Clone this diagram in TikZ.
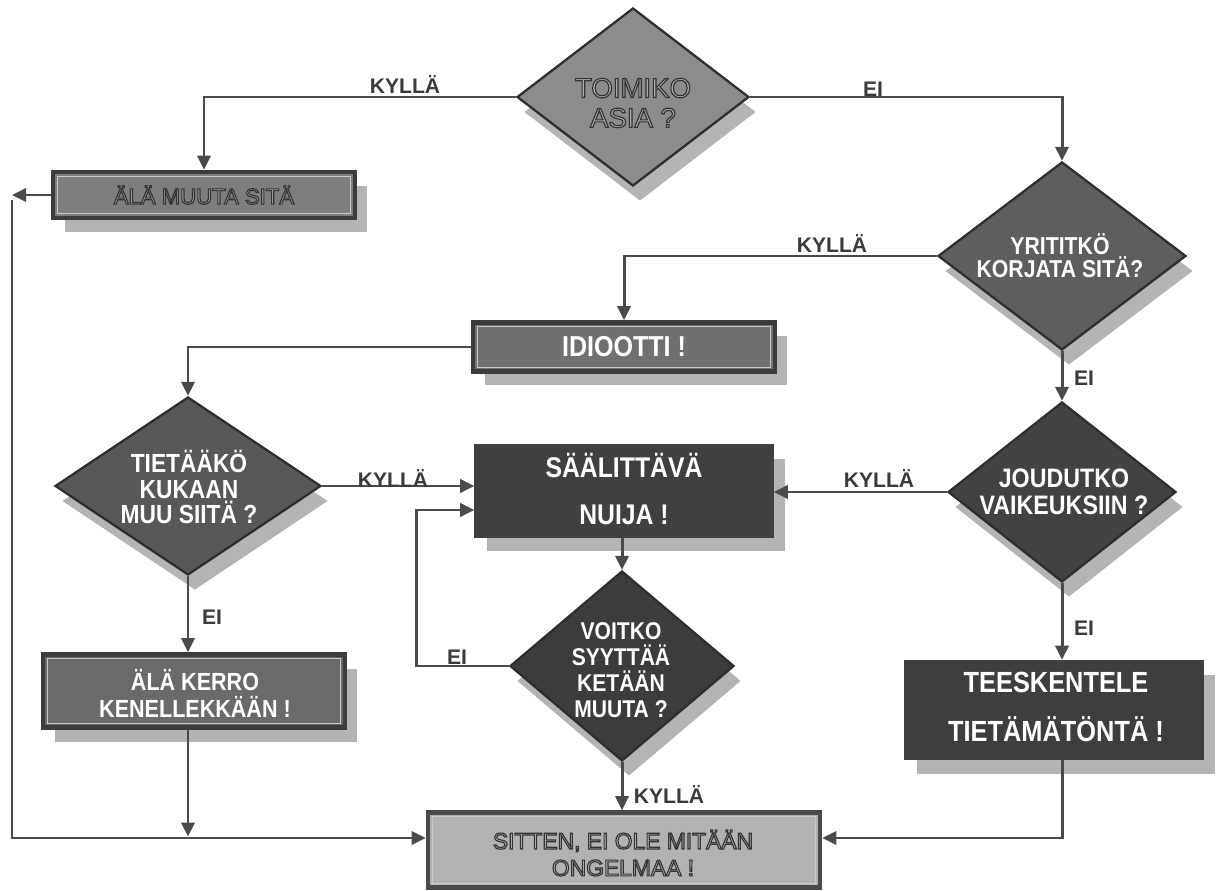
\documentclass[tikz,border=0pt]{standalone}
\usepackage{fontspec}
\setmainfont{Liberation Sans}
\newfontfamily\condsans[FakeStretch=0.87]{Liberation Sans}
\usetikzlibrary{shapes.geometric,shadows,arrows.meta}
\newdimen\pxu \pxu=0.02cm
\definecolor{linec}{HTML}{4A4A4A}
\definecolor{labelc}{HTML}{3A3A3A}
\definecolor{borderc}{HTML}{2E2E2E}
\definecolor{framec}{HTML}{3C3C3C}
\definecolor{innerc}{HTML}{C8C8C8}
\definecolor{shadowc}{HTML}{B4B4B4}
\definecolor{otextc}{HTML}{ABABAB}
\definecolor{d1c}{HTML}{8C8C8C}
\definecolor{muc}{HTML}{7E7E7E}
\definecolor{d2c}{HTML}{5E5E5E}
\definecolor{idic}{HTML}{707070}
\definecolor{d3c}{HTML}{585858}
\definecolor{saalc}{HTML}{404040}
\definecolor{d4c}{HTML}{424242}
\definecolor{d5c}{HTML}{3C3C3C}
\definecolor{teesc}{HTML}{3E3E3E}
\definecolor{kerroc}{HTML}{6A6A6A}
\definecolor{sitc}{HTML}{B2B2B2}
\definecolor{sittextc}{HTML}{BDBDBD}
\newcommand\outlon{\special{pdf:literal direct 2 Tr 0.65 w 0.2 0.2 0.2 RG}}
\newcommand\outloff{\special{pdf:literal direct 0 Tr}}
\begin{document}
\begin{tikzpicture}[x=0.02cm,y=-0.02cm,
  conn/.style={line width=1.7pt, draw=linec},
  arr/.style={conn, -{Triangle[length=8pt,width=7.5pt]}},
  lbl/.style={font=\fontsize{12}{14}\selectfont\bfseries, text=labelc, inner sep=0pt},
  dia/.style={diamond, draw=borderc, line width=1.3pt, inner sep=0pt},
  dshadow/.style={drop shadow={shadow xshift=7*\pxu, shadow yshift=-15*\pxu, fill=shadowc, opacity=1}},
  bshadow/.style={drop shadow={shadow xshift=12*\pxu, shadow yshift=-14*\pxu, fill=shadowc, opacity=1}},
  framebox/.style={rectangle, draw=framec, line width=2.6pt, inner sep=0pt,
    path picture={\draw[innerc, line width=0.6pt]
      ([shift={(2.4pt,2.4pt)}]path picture bounding box.south west) rectangle
      ([shift={(-2.4pt,-2.4pt)}]path picture bounding box.north east);}},
  darkbox/.style={rectangle, line width=0.8pt, inner sep=0pt},
  wtext/.style={text=white, align=center, inner sep=0pt},
  otext/.style={align=center, inner sep=0pt},
]
\useasboundingbox[fill=white] (0,0) rectangle (1224,891);

% ---------- shapes ----------
\node[dia, dshadow, fill=d1c, minimum width=232*\pxu, minimum height=178*\pxu] (d1) at (633,97) {};
\node[otext, text=otextc, font=\fontsize{15.7}{17}\selectfont] (d1t) at (633,103) {\outlon TOIMIKO\\ASIA ?\outloff};

\node[framebox, bshadow, fill=muc, minimum width=302*\pxu, minimum height=46*\pxu,
      text=otextc, font=\fontsize{12.6}{14}\selectfont] (mu) at (204,195) {\outlon ÄLÄ MUUTA SITÄ\outloff};

\node[dia, dshadow, fill=d2c, minimum width=248*\pxu, minimum height=188*\pxu] (d2) at (1062,256) {};
\node[wtext, font=\condsans\bfseries\fontsize{13.9}{13}\selectfont] (d2t) at (1060,256) {YRITITKÖ\\KORJATA SITÄ?};

\node[framebox, bshadow, fill=idic, minimum width=302*\pxu, minimum height=49*\pxu,
      text=white, font=\condsans\bfseries\fontsize{16.4}{18}\selectfont] (idi) at (624,347) {IDIOOTTI !};

\node[dia, dshadow, fill=d3c, minimum width=266*\pxu, minimum height=178*\pxu] (d3) at (188,486) {};
\node[wtext, font=\condsans\bfseries\fontsize{14.9}{14.7}\selectfont] (d3t) at (189,487) {TIETÄÄKÖ\\KUKAAN\\MUU SIITÄ ?};

\node[darkbox, bshadow, fill=saalc, draw=saalc, minimum width=298*\pxu, minimum height=92*\pxu] (saal) at (624,491) {};
\node[wtext, font=\condsans\bfseries\fontsize{16.2}{27}\selectfont] (saalt) at (624,489) {SÄÄLITTÄVÄ\\NUIJA !};

\node[dia, dshadow, fill=d4c, minimum width=228*\pxu, minimum height=180*\pxu] (d4) at (1062,492) {};
\node[wtext, font=\condsans\bfseries\fontsize{15.2}{15.3}\selectfont] (d4t) at (1064,492) {JOUDUTKO\\VAIKEUKSIIN ?};

\node[dia, dshadow, fill=d5c, minimum width=224*\pxu, minimum height=190*\pxu] (d5) at (622,666) {};
\node[wtext, font=\condsans\bfseries\fontsize{13.8}{14.7}\selectfont] (d5t) at (621,670) {VOITKO\\SYYTTÄÄ\\KETÄÄN\\MUUTA ?};

\node[darkbox, bshadow, fill=teesc, draw=teesc, minimum width=298*\pxu, minimum height=99*\pxu] (tees) at (1054,710) {};
\node[wtext, font=\condsans\bfseries\fontsize{16.6}{28.4}\selectfont] (teest) at (1056,707) {TEESKENTELE\\TIETÄMÄTÖNTÄ !};

\node[framebox, bshadow, fill=kerroc, minimum width=302*\pxu, minimum height=73*\pxu] (kerro) at (194,691) {};
\node[wtext, font=\condsans\bfseries\fontsize{14.1}{15.3}\selectfont] (kerrot) at (195,693) {ÄLÄ KERRO\\KENELLEKKÄÄN !};

\node[framebox, draw=linec, fill=sitc, minimum width=392*\pxu, minimum height=75*\pxu] (sit) at (624,850) {};
\node[otext, text=sittextc, font=\fontsize{13}{15.3}\selectfont] (sitt) at (623,853) {\outlon SITTEN, EI OLE MITÄÄN\\ONGELMAA !\outloff};

% ---------- helper coordinates ----------
\coordinate (lt) at (12,200);
\coordinate (lb) at (12,838);
\coordinate (ks) at (kerro.south -| d3.south);

% ---------- connectors ----------
\draw[arr] (d1.west) -| (mu.north);
\node[lbl] (l1) at (405,85) {KYLLÄ};
\draw[arr] (d1.east) -| (d2.north);
\node[lbl] (l2) at (873,89) {EI};
\draw[arr] (d2.west) -| (idi.north);
\node[lbl] (l3) at (832,244) {KYLLÄ};
\draw[arr] (idi.west) -| (d3.north);
\draw[arr] (d3.east) -- (d3.east -| saal.west);
\node[lbl] (l4) at (393,478) {KYLLÄ};
\draw[arr] (d3.south) -- (d3.south |- kerro.north);
\node[lbl] (l5) at (212,617) {EI};
\draw[arr] (d2.south) -- (d4.north);
\node[lbl] (l6) at (1084,378) {EI};
\draw[arr] (d4.west) -- (d4.west -| saal.east);
\node[lbl] (l7) at (879,478) {KYLLÄ};
\draw[arr] (d4.south) -- (d4.south |- tees.north);
\node[lbl] (l8) at (1084,628) {EI};
\draw[arr] (d4.south |- tees.south) |- ([yshift=12*\pxu]sit.east);
\draw[arr] (saal.south -| d5.north) -- (d5.north);
\draw[arr] (d5.west) -- ++(-92,0) |- ([yshift=-19*\pxu]saal.west);
\node[lbl] (l9) at (457,657) {EI};
\draw[arr] (d5.south) -- (d5.south |- sit.north);
\node[lbl] (l10) at (669,794) {KYLLÄ};
\draw[arr] (mu.west) -- (mu.west -| lt);
\draw[arr] (lt) |- ([yshift=12*\pxu]sit.west);
\draw[arr, shorten >=0.8pt] (ks) -- (ks |- lb);
\end{tikzpicture}
\end{document}
